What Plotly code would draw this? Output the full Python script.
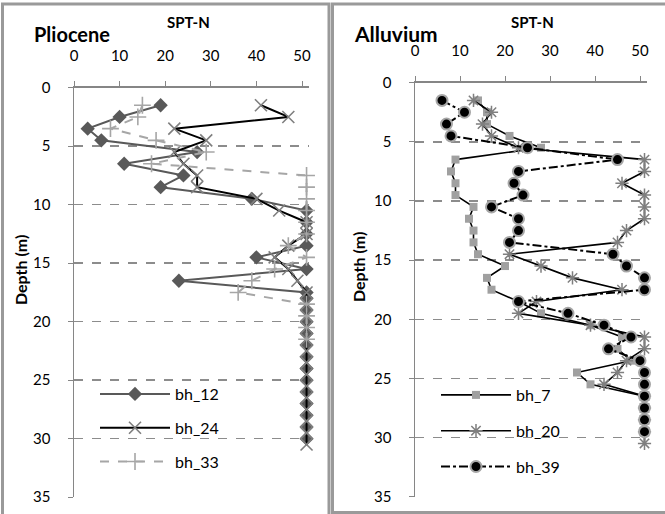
import plotly.graph_objects as go

# ---------------- data ----------------
# Pliocene panel
bh12_depth = [1.5, 2.5, 3.5, 4.5, 5.5, 6.5, 7.5, 8.5, 9.5, 10.5, 11.5, 12.5, 13.5, 14.5, 15.5, 16.5, 17.5,
              18, 19, 20, 21, 22, 23, 24, 25, 26, 27, 28, 29, 30]
bh12_n = [19, 10, 3, 6, 27, 11, 24, 19, 39, 51, 51, 51, 51, 40, 51, 23, 51,
          51, 51, 51, 51, 51, 51, 51, 51, 51, 51, 51, 51, 51]

bh24_depth = [1.5, 2.5, 3.5, 4.5, 5.5, 6.5, 7.5, 8.5, 9.5, 10.5, 11.5, 12.5, 13.5, 14.5, 15.5, 16.5, 17.5,
              18.5, 19.5, 20.5, 21.5, 22.5, 23.5, 24.5, 25.5, 26.5, 27.5, 28.5, 29.5, 30.5]
bh24_n = [41, 47, 22, 29, 22, 24, 27, 27, 40, 45, 51, 51, 47, 44, 47, 49, 51,
          51, 51, 51, 51, 51, 51, 51, 51, 51, 51, 51, 51, 51]

bh33_depth = [1.5, 2.5, 3.5, 4.5, 5.5, 6.5, 7.5, 8.5, 9.5, 10.5, 11.5, 12.5, 13.5, 14.5, 15.5, 16.5, 17.5,
              18.5, 19.5, 20.5, 21.5]
bh33_n = [15, 14, 8, 18, 29, 17, 51, 51, 51, 51, 51, 51, 47, 51, 44, 39, 36,
          51, 51, 51, 51]

# Alluvium panel
bh7_depth = [1.5, 2.5, 3.5, 4.5, 5.5, 6.5, 7.5, 8.5, 9.5, 10.5, 11.5, 12.5, 13.5, 14.5, 15.5, 16.5, 17.5,
             18.5, 19.5, 20.5, 21.5, 22.5, 23.5, 24.5, 25.5, 26.5]
bh7_n = [14, 16, 16, 21, 28, 9, 8, 9, 9, 13, 12, 13, 13, 14, 20, 16, 17,
         23, 28, 39, 46, 45, 48, 36, 39, 51]

bh20_depth = [1.5, 2.5, 3.5, 4.5, 5.5, 6.5, 7.5, 8.5, 9.5, 10.5, 11.5, 12.5, 13.5, 14.5, 15.5, 16.5, 17.5,
              18.5, 19.5, 20.5, 21.5, 22.5, 23.5, 24.5, 25.5, 26.5, 27.5, 28.5, 29.5, 30.5]
bh20_n = [13, 17, 15, 17, 23, 51, 51, 46, 51, 51, 51, 47, 45, 21, 28, 35, 46,
          27, 23, 39, 51, 51, 47, 45, 42, 51, 51, 51, 51, 51]

bh39_depth = [1.5, 2.5, 3.5, 4.5, 5.5, 6.5, 7.5, 8.5, 9.5, 10.5, 11.5, 12.5, 13.5, 14.5, 15.5, 16.5, 17.5,
              18.5, 19.5, 20.5, 21.5, 22.5, 23.5, 24.5, 25.5, 26.5, 27.5, 28.5, 29.5]
bh39_n = [6, 11, 7, 8, 25, 45, 23, 22, 24, 17, 23, 23, 21, 44, 47, 51, 51,
          23, 34, 42, 48, 43, 50, 51, 51, 51, 51, 51, 51]

x_ticks = [0, 10, 20, 30, 40, 50]
y_ticks = [0, 5, 10, 15, 20, 25, 30, 35]

# ---------------- figure ----------------
W, H = 665, 514
FONT = "Lato, 'Open Sans', sans-serif"

def px_x(p):
    return p / W

def px_y(p):
    return 1 - p / H

fig = go.Figure()

# Left panel traces
fig.add_trace(go.Scatter(x=bh12_n, y=bh12_depth, name="bh_12", mode="lines+markers",
                         line=dict(color="#595959", width=2),
                         marker=dict(symbol="diamond", size=11, color="#595959"),
                         xaxis="x", yaxis="y", legend="legend", legendgroup="a",
                         cliponaxis=False))
fig.add_trace(go.Scatter(x=bh24_n, y=bh24_depth, name="bh_24", mode="lines+markers",
                         line=dict(color="#000000", width=2),
                         marker=dict(symbol="x-thin", size=12, color="#7f7f7f",
                                     line=dict(color="#7f7f7f", width=1.6)),
                         xaxis="x", yaxis="y", legend="legend", legendgroup="b",
                         cliponaxis=False))
fig.add_trace(go.Scatter(x=bh33_n, y=bh33_depth, name="bh_33", mode="lines+markers",
                         line=dict(color="#a6a6a6", width=2, dash="dash"),
                         marker=dict(symbol="cross-thin", size=12, color="#a6a6a6",
                                     line=dict(color="#a6a6a6", width=1.6)),
                         xaxis="x", yaxis="y", legend="legend", legendgroup="c",
                         cliponaxis=False))

# Right panel traces
fig.add_trace(go.Scatter(x=bh7_n, y=bh7_depth, name="bh_7", mode="lines+markers",
                         line=dict(color="#000000", width=1.6),
                         marker=dict(symbol="square", size=8, color="#a0a0a0"),
                         xaxis="x2", yaxis="y2", legend="legend2", legendgroup="d",
                         cliponaxis=False))
fig.add_trace(go.Scatter(x=bh20_n, y=bh20_depth, name="bh_20", mode="lines+markers",
                         line=dict(color="#000000", width=1.6),
                         marker=dict(symbol="asterisk-open", size=11, color="#7f7f7f",
                                     line=dict(color="#7f7f7f", width=1.5)),
                         xaxis="x2", yaxis="y2", legend="legend2", legendgroup="e",
                         cliponaxis=False))
fig.add_trace(go.Scatter(x=bh39_n, y=bh39_depth, name="bh_39", mode="lines+markers",
                         line=dict(color="#000000", width=2, dash="dashdot"),
                         marker=dict(symbol="circle", size=11, color="#000000",
                                     line=dict(color="#a6a6a6", width=2)),
                         xaxis="x2", yaxis="y2", legend="legend2", legendgroup="f",
                         cliponaxis=False))

axis_font = dict(family=FONT, size=15, color="#000000")

def xaxis_cfg(domain, anchor):
    return dict(domain=domain, anchor=anchor, side="top", range=[0, 51.5],
                tickvals=x_ticks, ticks="outside", ticklen=5, tickcolor="#868686",
                showline=True, linecolor="#868686", linewidth=1.5,
                showgrid=False, zeroline=False, tickfont=axis_font,
                ticklabelstandoff=14, fixedrange=True, automargin=False)

def yaxis_cfg(domain, anchor):
    return dict(domain=domain, anchor=anchor, range=[35, 0],
                tickvals=y_ticks, ticks="outside", ticklen=5, tickcolor="#868686",
                showline=True, linecolor="#868686", linewidth=1.5,
                showgrid=True, gridcolor="#8c8c8c", gridwidth=1.5, griddash="dash",
                zeroline=False, tickfont=axis_font, ticklabelstandoff=14, fixedrange=True,
                automargin=False)

fig.update_layout(
    width=W, height=H,
    margin=dict(l=0, r=0, t=0, b=0, pad=0, autoexpand=False),
    paper_bgcolor="white", plot_bgcolor="white",
    font=dict(family=FONT, color="#000000"),
    xaxis=xaxis_cfg([px_x(74), px_x(74 + 51.5 * 4.56)], "y"),
    yaxis=yaxis_cfg([px_y(497.2), px_y(87.7)], "x"),
    xaxis2=xaxis_cfg([px_x(415), px_x(415 + 51.5 * 4.5)], "y2"),
    yaxis2=yaxis_cfg([px_y(496.7), px_y(82.7)], "x2"),
    legend=dict(x=px_x(95), y=px_y(377), xanchor="left", yanchor="top",
                bgcolor="rgba(0,0,0,0)", font=dict(family=FONT, size=16),
                itemwidth=70, tracegroupgap=10),
    legend2=dict(x=px_x(436), y=px_y(378), xanchor="left", yanchor="top",
                 bgcolor="rgba(0,0,0,0)", font=dict(family=FONT, size=16),
                 itemwidth=70, tracegroupgap=12),
    showlegend=True,
)

annotations = [
    dict(text="<b>Pliocene</b>", x=px_x(32), y=px_y(34), xanchor="left", yanchor="middle",
         font=dict(size=20)),
    dict(text="<b>SPT-N</b>", x=px_x(188), y=px_y(22), xanchor="center", yanchor="middle",
         font=dict(size=15)),
    dict(text="<b>Alluvium</b>", x=px_x(352), y=px_y(34), xanchor="left", yanchor="middle",
         font=dict(size=21)),
    dict(text="<b>SPT-N</b>", x=px_x(532), y=px_y(22), xanchor="center", yanchor="middle",
         font=dict(size=15)),
    dict(text="<b>Depth (m)</b>", x=px_x(20), y=px_y(270), xanchor="center", yanchor="middle",
         textangle=-90, font=dict(size=16)),
    dict(text="<b>Depth (m)</b>", x=px_x(358), y=px_y(267), xanchor="center", yanchor="middle",
         textangle=-90, font=dict(size=16)),
]
for a in annotations:
    a.update(xref="paper", yref="paper", showarrow=False)
    a["font"] = dict(family=FONT, color="#000000", **a["font"])
fig.update_layout(annotations=annotations)

# panel frames
fig.add_shape(type="rect", xref="paper", yref="paper",
              x0=px_x(2.5), x1=px_x(329), y0=px_y(520), y1=px_y(4),
              line=dict(color="#9a9a9a", width=3), layer="below")
fig.add_shape(type="rect", xref="paper", yref="paper",
              x0=px_x(332.5), x1=px_x(670), y0=px_y(512.5), y1=px_y(4),
              line=dict(color="#9a9a9a", width=3), layer="below")

fig.write_html("out.html", config={"displayModeBar": False, "staticPlot": True},
               post_script="document.body.style.margin='0';document.body.style.overflow='hidden';")
